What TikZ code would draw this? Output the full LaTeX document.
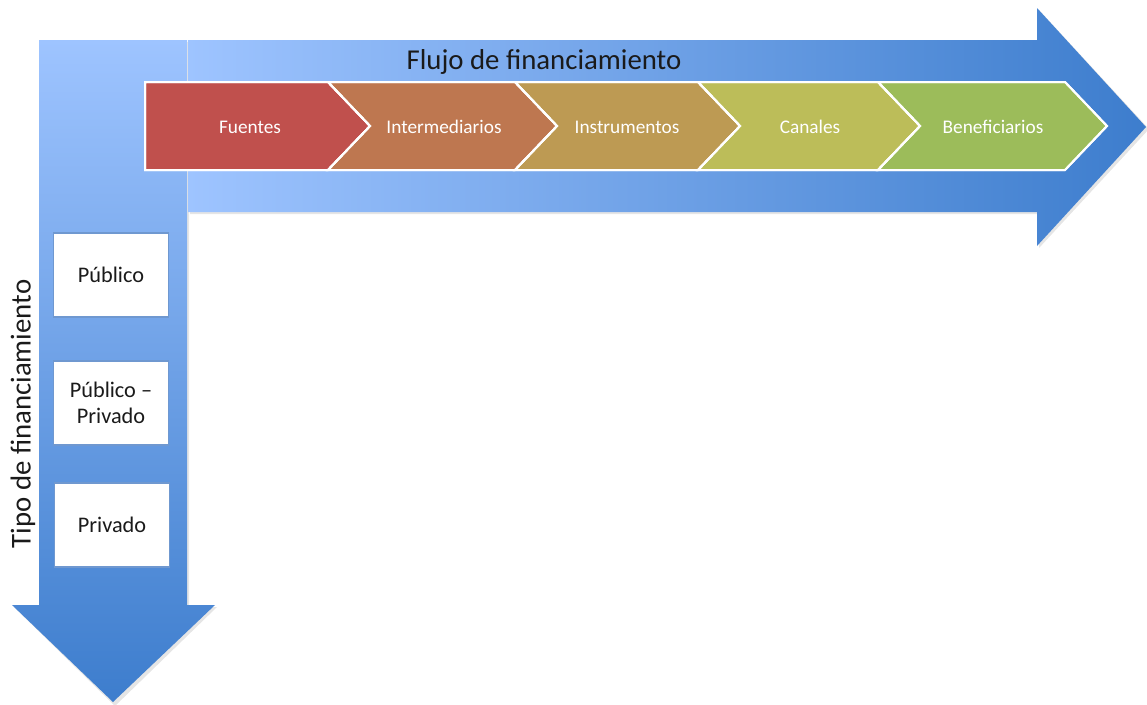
\documentclass[tikz,border=0pt]{standalone}
\usepackage{fontspec}
\setmainfont{Carlito}
\begin{document}
\begin{tikzpicture}[x=1pt,y=-1pt,
  chevtext/.style={text=white,font=\fontsize{19.3}{21}\selectfont,inner sep=0pt},
  chev/.style={draw=white,line width=2pt,line join=miter},
  typebox/.style={draw=boxedge,line width=1.6pt,fill=white,minimum width=115pt,minimum height=84pt,inner sep=0pt,align=center,text=textdark,font=\fontsize{22.3}{26.5}\selectfont},
  title/.style={text=textdark,font=\fontsize{28.8}{30}\selectfont,inner sep=0pt},
  shadowfill/.style={fill=black,opacity=0.10}]
\definecolor{lightblue}{HTML}{9EC4FF}
\definecolor{darkblue}{HTML}{3D7DCD}
\definecolor{boxedge}{HTML}{6F98D0}
\definecolor{textdark}{HTML}{1A1A1A}
\definecolor{cA}{HTML}{C0504D}
\definecolor{cB}{HTML}{BE7750}
\definecolor{cC}{HTML}{BD9A53}
\definecolor{cD}{HTML}{BCBD59}
\definecolor{cE}{HTML}{9CBC5A}
\useasboundingbox (0,0) rectangle (1147,704);
\fill[white] (0,0) rectangle (1147,704);
% shadows
\fill[shadowfill] (41,42) -- (189,42) -- (189,607) -- (217,607) -- (115,706) -- (14,607) -- (41,607) -- cycle;
\fill[shadowfill] (190,42) -- (1039,42) -- (1039,10) -- (1149,129) -- (1039,248) -- (1039,214) -- (190,214) -- cycle;
% vertical arrow
\shade[top color=lightblue,bottom color=darkblue]
  (39,40) -- (187,40) -- (187,605) -- (215,605) -- (113,702) -- (12,605) -- (39,605) -- cycle;
% horizontal arrow
\shade[left color=lightblue,right color=darkblue]
  (188,40) -- (1037,40) -- (1037,8) -- (1146,127) -- (1037,246) -- (1037,212) -- (188,212) -- cycle;
% chevrons
\fill[chev,fill=cA] (145,82) -- (328,82) -- (370,126) -- (328,170) -- (145,170) -- cycle;
\fill[chev,fill=cB] (328,82) -- (515,82) -- (557,126) -- (515,170) -- (328,170) -- (370,126) -- cycle;
\fill[chev,fill=cC] (515,82) -- (698,82) -- (740,126) -- (698,170) -- (515,170) -- (557,126) -- cycle;
\fill[chev,fill=cD] (698,82) -- (878,82) -- (920,126) -- (878,170) -- (698,170) -- (740,126) -- cycle;
\fill[chev,fill=cE] (878,82) -- (1065,82) -- (1107,126) -- (1065,170) -- (878,170) -- (920,126) -- cycle;
\draw[chev] (145,82) -- (328,82) -- (370,126) -- (328,170) -- (145,170) -- cycle;
\draw[chev] (328,82) -- (515,82) -- (557,126) -- (515,170) -- (328,170) -- (370,126) -- cycle;
\draw[chev] (515,82) -- (698,82) -- (740,126) -- (698,170) -- (515,170) -- (557,126) -- cycle;
\draw[chev] (698,82) -- (878,82) -- (920,126) -- (878,170) -- (698,170) -- (740,126) -- cycle;
\draw[chev] (878,82) -- (1065,82) -- (1107,126) -- (1065,170) -- (878,170) -- (920,126) -- cycle;
\node[chevtext,anchor=base] (fuentes) at (250,133) {Fuentes};
\node[chevtext,anchor=base] (interm) at (444,133) {Intermediarios};
\node[chevtext,anchor=base] (instr) at (627,133) {Instrumentos};
\node[chevtext,anchor=base] (canales) at (810,133) {Canales};
\node[chevtext,anchor=base] (benef) at (993,133) {Beneficiarios};
% titles
\node[title] (flujo) at (544,62) {Flujo de financiamiento};
\node[title,rotate=90] (tipo) at (23,414) {Tipo de financiamiento};
% boxes
\node[typebox] (publico) at (111,275) {Público};
\node[typebox] (pubpriv) at (111,403) {Público –\\Privado};
\node[typebox] (privado) at (112,525) {Privado};
\end{tikzpicture}
\end{document}
